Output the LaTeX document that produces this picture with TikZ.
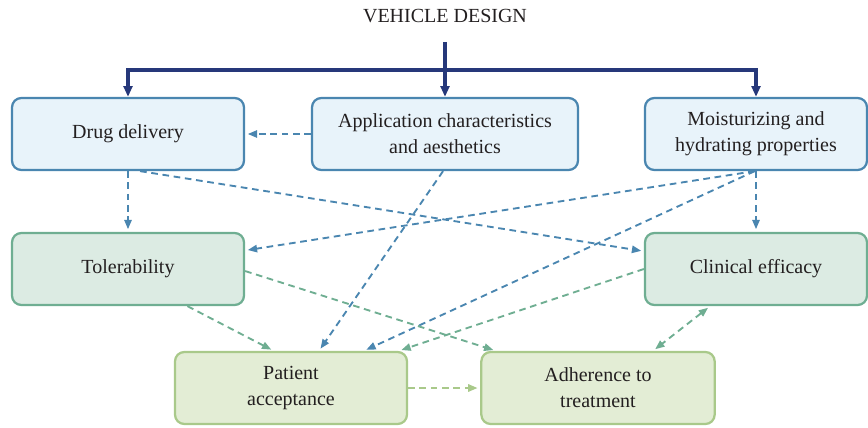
\documentclass[tikz,border=0pt]{standalone}
\usepackage{fontspec}
\setmainfont{Liberation Serif}
\usetikzlibrary{arrows.meta}

\definecolor{navy}{HTML}{26387A}
\definecolor{blueline}{HTML}{4A86B0}
\definecolor{bluefill}{HTML}{E8F3FA}
\definecolor{tealline}{HTML}{6FAE92}
\definecolor{tealfill}{HTML}{DCEBE3}
\definecolor{limeline}{HTML}{A9C98A}
\definecolor{limefill}{HTML}{E3EDD5}
\definecolor{ink}{HTML}{231F20}

\begin{document}
\begin{tikzpicture}[x=0.75pt, y=-0.75pt, every node/.style={text=ink, font=\fontsize{15}{19.5}\selectfont}]
    \tikzstyle{box}=[rectangle, rounded corners=7pt, line width=1.7pt, align=center, minimum height=54pt, inner sep=2pt]
    \tikzstyle{design box}=[box, draw=blueline, fill=bluefill]
    \tikzstyle{effect box}=[box, draw=tealline, fill=tealfill]
    \tikzstyle{outcome box}=[box, draw=limeline, fill=limefill]
    \tikzstyle{tree}=[draw=navy, line width=2.3pt, -{Triangle[length=8pt, width=6.5pt]}]
    \tikzstyle{link}=[line width=1.4pt, dash pattern=on 5pt off 3.5pt, -{Triangle[length=7pt, width=5.5pt]}, shorten >=2pt]
    \tikzstyle{blue link}=[link, draw=blueline]
    \tikzstyle{teal link}=[link, draw=tealline]
    \tikzstyle{lime link}=[link, draw=limeline]

    \useasboundingbox (0,0) rectangle (868,428);

    % Title
    \node (title) at (445,16) {VEHICLE DESIGN};
    \coordinate (root) at (445,42);
    \coordinate (split) at (445,70);

    % Design properties
    \node[design box, minimum width=174pt] (drug) at (128,134) {Drug delivery};
    \node[design box, minimum width=199.5pt] (app) at (445,134) {Application characteristics\\and aesthetics};
    \node[design box, minimum width=166.5pt] (moist) at (756,134) {Moisturizing and\\hydrating properties};

    % Clinical effects
    \node[effect box, minimum width=174pt] (tol) at (128,269) {Tolerability};
    \node[effect box, minimum width=166.5pt] (clin) at (756,269) {Clinical efficacy};

    % Outcomes
    \node[outcome box, minimum width=174pt] (accept) at (291,388) {Patient\\acceptance};
    \node[outcome box, minimum width=175pt] (adher) at (598,388) {Adherence to\\treatment};

    % Vehicle design tree
    \draw[tree] (root) -- (app.north);
    \foreach \dest in {drug, moist}
        \draw[tree] (split) -| (\dest.north);

    % Links from the design properties
    \draw[blue link] (app.west) -- (drug.east);
    \draw[blue link] (drug.south) -- (tol.north);
    \draw[blue link] (drug.-72) -- (clin.171);
    \draw[blue link] (app.-93) -- (accept.53);
    \draw[blue link] (moist.-92) -- (tol.9);
    \draw[blue link] (moist.-92) -- (accept.27);
    \draw[blue link] (moist.south) -- (clin.north);

    % Links from the clinical effects
    \draw[teal link] (tol.-32) -- (accept.115);
    \draw[teal link] (tol.-1) -- (adher.160);
    \draw[teal link] (clin.180) -- (accept.19);
    \draw[teal link, {Triangle[length=7pt, width=5.5pt]}-{Triangle[length=7pt, width=5.5pt]}, shorten <=2pt] (clin.-141) -- (adher.34);

    % Acceptance to adherence
    \draw[lime link] (accept.east) -- (adher.west);
\end{tikzpicture}
\end{document}
